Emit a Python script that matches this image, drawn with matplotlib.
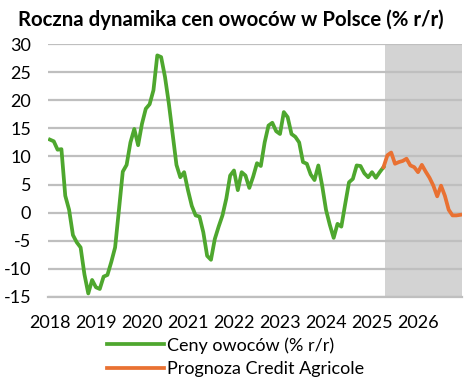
import numpy as np
import matplotlib
matplotlib.use("Agg")
import matplotlib.pyplot as plt

plt.rcParams['font.family'] = ['Lato', 'DejaVu Sans']

# monthly y/y fruit price dynamics, Jan 2018 .. Apr 2025 (actual)
actual = [13.0, 12.7, 11.2, 11.3, 3.0, 0.5, -4.0, -5.3, -6.2, -11.0,
          -14.4, -12.0, -13.3, -13.6, -11.4, -11.1, -8.8, -6.2, 0.5, 7.3,
          8.5, 12.5, 14.9, 12.0, 15.8, 18.5, 19.3, 21.8, 28.0, 27.7,
          24.2, 19.5, 14.0, 8.5, 6.3, 7.2, 4.0, 1.2, -0.5, -0.7,
          -3.5, -7.7, -8.4, -4.7, -2.5, -0.5, 2.5, 6.6, 7.5, 4.0,
          7.2, 6.6, 4.4, 6.4, 8.8, 8.3, 12.5, 15.5, 16.0, 14.5,
          14.0, 17.9, 17.0, 14.0, 13.5, 12.5, 9.0, 8.7, 6.8, 5.8,
          8.4, 4.8, 0.5, -2.2, -4.5, -2.0, -2.5, 1.5, 5.4, 6.0,
          8.4, 8.3, 7.0, 6.3, 7.2, 6.2, 7.2, 8.1]

# Credit Agricole forecast, Apr 2025 .. Dec 2026
forecast = [8.1, 10.2, 10.7, 8.7, 9.0, 9.2, 9.6, 8.4, 8.1, 7.2,
            8.5, 7.3, 6.2, 4.8, 2.9, 4.8, 3.0, 0.5, -0.5, -0.5, -0.4]

years = ['2018', '2019', '2020', '2021', '2022', '2023', '2024', '2025', '2026']
yticks = [-15, -10, -5, 0, 5, 10, 15, 20, 25, 30]

green = '#4EA72E'
orange = '#E97132'

x_act = np.arange(len(actual))
x_fc = np.arange(len(actual) - 1, len(actual) - 1 + len(forecast))
n_months = len(actual) - 1 + len(forecast)

fig = plt.figure(figsize=(4.73, 3.84), dpi=100)
ax = fig.add_axes([0.1015, 0.227, 0.8755, 0.658])

# forecast period shading
ax.axvspan(len(actual) - 0.5, n_months - 0.5, color='#D3D3D3', lw=0, zorder=0)

ax.set_ylim(-15, 30)
ax.set_xlim(-0.5, n_months - 0.5)
ax.set_yticks(yticks)
ax.set_yticklabels([str(v) for v in yticks])
ax.yaxis.grid(True, color='#BFBFBF', lw=1.6, zorder=1)
ax.set_axisbelow(True)

ax.plot(x_act, actual, color=green, lw=2.7, solid_joinstyle='round',
        label='Ceny owoców (% r/r)', zorder=3)
ax.plot(x_fc, forecast, color=orange, lw=2.7, solid_joinstyle='round',
        label='Prognoza Credit Agricole', zorder=3)

ax.set_xticks(np.arange(0, 12 * len(years), 12))
ax.set_xticklabels(years)
ax.tick_params(axis='both', length=0, labelsize=13, colors='black')
ax.tick_params(axis='x', pad=13)
ax.tick_params(axis='y', pad=12)
for s in ['top', 'right', 'left']:
    ax.spines[s].set_visible(False)
ax.spines['bottom'].set_color('#BFBFBF')
ax.spines['bottom'].set_linewidth(1.6)

fig.text(0.038, 0.948, 'Roczna dynamika cen owoców w Polsce (% r/r)',
         fontsize=14.7, fontweight='bold', va='center', ha='left')

fig.legend(loc='upper left', bbox_to_anchor=(0.226, 0.122), frameon=False,
           fontsize=13, handlelength=3.15, handletextpad=0.2,
           labelspacing=0.4, borderaxespad=0, borderpad=0)

fig.savefig('out.png', dpi=100)
